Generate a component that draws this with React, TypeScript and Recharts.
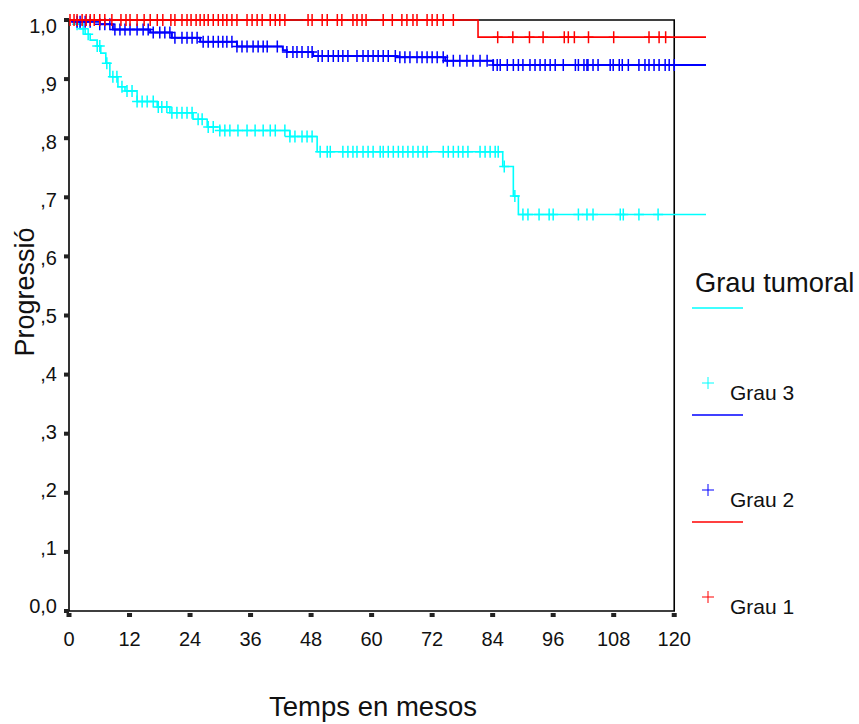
import React from 'react';
import { ComposedChart, Line, Scatter, XAxis, YAxis, ReferenceArea } from 'recharts';

const FONT = '"Liberation Sans", Arial, sans-serif';

// Kaplan-Meier steps (months -> cumulative proportion)
const grau1Times = [0, 81.1, 126.3];
const grau1Surv = [1, 0.971, 0.971];
const grau1Censored = [
  0.2, 1, 1.6, 2.6, 3.4, 4.2, 5, 6.1, 7.1, 8.5, 10.3, 11.3, 12.1, 13.5, 14.9, 16.1, 17.5, 18.6, 20.2, 21,
  22.4, 23.4, 24.2, 25.2, 26, 26.8, 27.6, 28.6, 29.6, 30.5, 31.3, 32.3, 33.3, 35.3, 36.3, 37.3, 38.3, 39.9,
  40.9, 41.8, 42.8, 47.4, 48.2, 50.2, 51.2, 53.2, 54.1, 56.3, 57.1, 58.1, 58.9, 62.3, 64.1, 66, 67, 68.2,
  69, 71, 72, 73, 74.2, 76.2, 85, 88, 91.3, 94, 98.2, 99, 100.2, 103, 108, 115, 117, 118.3,
];

const grau2Times = [0, 0.6, 6.1, 8.7, 16.1, 20.4, 26, 33.3, 42.4, 43.2, 48.4, 65, 74.6, 84.1, 126.3];
const grau2Surv = [1, 0.997, 0.993, 0.984, 0.979, 0.97, 0.963, 0.955, 0.949, 0.946, 0.939, 0.937, 0.931, 0.924, 0.924];
const grau2Censored = [
  1.6, 2.2, 3.2, 4.2, 6.1, 7.1, 8.1, 9.1, 10.1, 11.1, 12.1, 13.5, 14.7, 15.7, 16.7, 18, 19, 20, 21, 22.4,
  23.4, 24.4, 25.4, 26.6, 27.6, 28.6, 29.6, 30.5, 31.3, 32.3, 33.3, 34.3, 35.3, 36.5, 37.5, 38.5, 39.3,
  41.3, 43.2, 44.4, 45.2, 46.2, 47.4, 48.2, 49.4, 50.2, 51.4, 52.4, 53.4, 54.3, 55.3, 57.1, 58.3, 59.3,
  60.3, 61.3, 62.3, 63.3, 64.7, 65.6, 66.6, 67.6, 69, 70, 71, 72, 73, 74.2, 75, 76.2, 77.5, 78.9, 80.1,
  81.5, 82.9, 84.1, 84.9, 85.5, 86.9, 88.1, 89.1, 90, 91.4, 92.4, 93.4, 94.4, 95.4, 96.4, 98, 100.4, 101,
  102.1, 102.7, 102.9, 103.9, 104.9, 107.3, 107.9, 109.1, 109.7, 110.9, 113, 114.2, 115, 116, 117, 118.2,
  119, 120,
];

const grau3Times = [0, 1.2, 2.2, 3.2, 4.2, 5.6, 6.3, 7.3, 8.1, 9.7, 11.1, 13.5, 17.5, 20, 24.6, 27.4, 29.9, 43.8, 49.2, 86, 88.1, 89.1, 126.3];
const grau3Surv = [1, 0.993, 0.985, 0.976, 0.966, 0.956, 0.944, 0.927, 0.904, 0.887, 0.88, 0.862, 0.853, 0.843, 0.832, 0.819, 0.813, 0.803, 0.777, 0.752, 0.702, 0.671, 0.671];
const grau3Censored = [
  1.6, 2.8, 3.8, 5.6, 6.1, 7.5, 8.7, 9.5, 10.5, 11.5, 12.5, 13.5, 14.5, 15.5, 16.7, 17.7, 18.4, 19.4, 20.4,
  21.4, 22.4, 23.4, 24.4, 25.6, 26.4, 27.6, 28.6, 29.9, 30.9, 31.9, 33.5, 35.3, 36.9, 38.5, 39.9, 40.9,
  42.8, 43.8, 44.8, 46.2, 47.2, 48.2, 49.8, 51.2, 51.8, 54.3, 55.3, 56.3, 57.1, 58.3, 59.3, 60.3, 61.7,
  62.3, 63.3, 64.3, 65.3, 66.2, 67.2, 68.2, 69.2, 70.2, 71, 74.2, 75.2, 76.2, 77.2, 78.1, 79.1, 81.5, 82.5,
  83.5, 84.5, 85.1, 86.3, 88.4, 90, 91, 93.2, 95.2, 96, 101, 102.7, 103.9, 109.3, 109.9, 113, 116.8,
];

const xTicks = [0, 12, 24, 36, 48, 60, 72, 84, 96, 108, 120];
const yTicks = [0, 0.1, 0.2, 0.3, 0.4, 0.5, 0.6, 0.7, 0.8, 0.9, 1];
const yTickLabels = ['0,0', ',1', ',2', ',3', ',4', ',5', ',6', ',7', ',8', ',9', '1,0'];

const legendItems = [
  { name: 'Grau 3', color: '#00FFFF' },
  { name: 'Grau 2', color: '#0000FF' },
  { name: 'Grau 1', color: '#FF0000' },
];

const steps = (times: number[], surv: number[]) => times.map((t, i) => ({ t, s: surv[i] }));

// value of the step curve at time t (for placing the censor marks)
const survAt = (times: number[], surv: number[], t: number) => {
  let s = surv[0];
  for (let i = 0; i < times.length; i++) if (times[i] <= t) s = surv[i];
  return s;
};
const marks = (times: number[], surv: number[], cens: number[]) =>
  cens.map((t) => ({ t, s: survAt(times, surv, t) }));

const Cross = (color: string) => (props: any) => {
  const { cx, cy } = props;
  return (
    <path d={`M${cx - 5},${cy}H${cx + 5}M${cx},${cy - 6}V${cy + 6}`} stroke={color} strokeWidth={1.5} fill="none" />
  );
};

const XTick = (props: any) => {
  const { x, y, payload } = props;
  return (
    <g>
      <rect x={x - 2.5} y={y + 2} width={5} height={4} fill="#222" />
      <text x={x} y={y + 35} textAnchor="middle" fontSize={20} fontFamily={FONT} fill="#111">
        {payload.value}
      </text>
    </g>
  );
};

const YTick = (props: any) => {
  const { x, y, payload } = props;
  const idx = yTicks.findIndex((v) => Math.abs(v - payload.value) < 1e-6);
  const off = 6 - 11 * (1 - payload.value);
  return (
    <g>
      <rect x={x - 5} y={y - 2} width={5} height={4} fill="#222" />
      <text x={x - 12} y={y + off + 7} textAnchor="end" fontSize={20} fontFamily={FONT} fill="#111">
        {yTickLabels[idx]}
      </text>
    </g>
  );
};

export default function App() {
  return (
    <div style={{ position: 'absolute', left: 0, top: 0, width: 859, height: 724, background: '#fff', fontFamily: FONT }}>
      <ComposedChart width={859} height={724} margin={{ top: 20, right: 153, left: 19, bottom: 83 }}>
        <XAxis
          dataKey="t"
          type="number"
          domain={[0, 126.3]}
          ticks={xTicks}
          axisLine={false}
          tickLine={false}
          tickSize={0}
          tickMargin={0}
          tick={<XTick />}
          height={30}
          interval={0}
        />
        <YAxis
          type="number"
          domain={[0, 1]}
          ticks={yTicks}
          axisLine={false}
          tickLine={false}
          tickSize={0}
          tickMargin={0}
          tick={<YTick />}
          width={50}
          interval={0}
        />
        <ReferenceArea x1={0} x2={120} y1={0} y2={1} fill="none" stroke="#000" strokeWidth={1.6} />
        <Line data={steps(grau3Times, grau3Surv)} dataKey="s" type="stepAfter" stroke="#00FFFF" strokeWidth={1.6} dot={false} isAnimationActive={false} />
        <Scatter data={marks(grau3Times, grau3Surv, grau3Censored)} dataKey="s" shape={Cross('#00FFFF')} isAnimationActive={false} />
        <Line data={steps(grau2Times, grau2Surv)} dataKey="s" type="stepAfter" stroke="#0000FF" strokeWidth={2} dot={false} isAnimationActive={false} />
        <Scatter data={marks(grau2Times, grau2Surv, grau2Censored)} dataKey="s" shape={Cross('#0000FF')} isAnimationActive={false} />
        <Line data={steps(grau1Times, grau1Surv)} dataKey="s" type="stepAfter" stroke="#FF0000" strokeWidth={1.6} dot={false} isAnimationActive={false} />
        <Scatter data={marks(grau1Times, grau1Surv, grau1Censored)} dataKey="s" shape={Cross('#FF0000')} isAnimationActive={false} />
      </ComposedChart>

      {/* axis titles and the SPSS-style legend */}
      <svg width={859} height={724} style={{ position: 'absolute', left: 0, top: 0, pointerEvents: 'none' }}>
        <text x={34} y={292} transform="rotate(-90 34 292)" textAnchor="middle" fontSize={27} fontFamily={FONT} fill="#111">
          Progressió
        </text>
        <text x={373} y={716} textAnchor="middle" fontSize={27.5} fontFamily={FONT} fill="#111">
          Temps en mesos
        </text>
        <text x={695} y={292} fontSize={27.3} fontFamily={FONT} fill="#111">
          Grau tumoral
        </text>
        {legendItems.map((it, i) => {
          const ly = 308 + i * 107;
          const cy = 383 + i * 107;
          return (
            <g key={it.name}>
              <line x1={692} x2={743} y1={ly} y2={ly} stroke={it.color} strokeWidth={1.5} />
              <path d={`M${702},${cy}H${714}M${708},${cy - 6}V${cy + 6}`} stroke={it.color} strokeWidth={1} fill="none" />
              <text x={730} y={cy + 17} fontSize={21} fontFamily={FONT} fill="#111">
                {it.name}
              </text>
            </g>
          );
        })}
      </svg>
    </div>
  );
}
